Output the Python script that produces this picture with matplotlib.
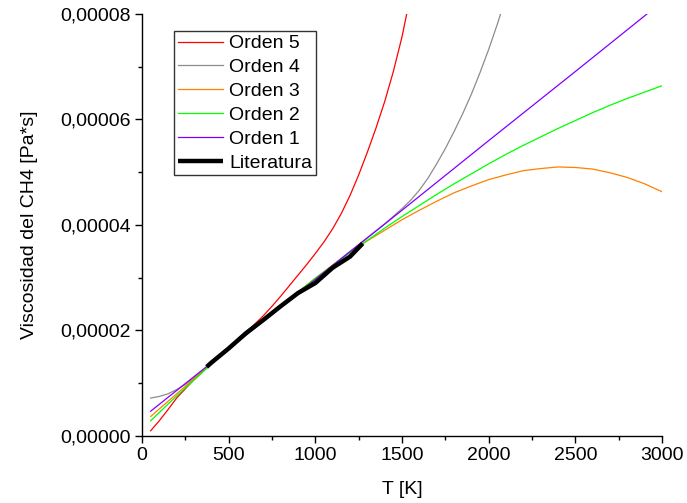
import numpy as np
import matplotlib
matplotlib.use("Agg")
import matplotlib.pyplot as plt
from matplotlib.ticker import MultipleLocator, FuncFormatter

plt.rcParams["font.family"] = ["Liberation Sans", "DejaVu Sans"]

# values, viscosity in units of 1e-5 Pa*s
T_lit = [373, 400, 500, 600, 700, 800, 900, 1000, 1100, 1200, 1273]
mu_lit = [1.31, 1.39, 1.66, 1.95, 2.20, 2.46, 2.71, 2.90, 3.19, 3.40, 3.65]

T_o5 = [50, 100, 150, 200, 300, 400, 500, 600, 650, 700, 750, 800, 850,
        900, 950, 1000, 1050, 1100, 1150, 1200, 1250, 1300, 1350, 1400,
        1450, 1500, 1550]
mu_o5 = [0.10, 0.29, 0.50, 0.72, 1.07, 1.38, 1.68, 1.97, 2.12, 2.28, 2.46,
         2.65, 2.85, 3.05, 3.25, 3.46, 3.68, 3.93, 4.22, 4.56, 4.95, 5.38,
         5.84, 6.34, 6.91, 7.57, 8.37]

T_o4 = [50, 100, 150, 200, 250, 300, 400, 500, 600, 700, 800, 900, 1000,
        1100, 1200, 1300, 1400, 1500, 1550, 1600, 1650, 1700, 1750, 1800,
        1850, 1900, 1950, 2000, 2050, 2100]
mu_o4 = [0.72, 0.75, 0.80, 0.88, 0.98, 1.10, 1.37, 1.64, 1.91, 2.18, 2.45,
         2.72, 2.98, 3.24, 3.50, 3.76, 4.02, 4.31, 4.47, 4.66, 4.89, 5.16,
         5.45, 5.77, 6.11, 6.48, 6.89, 7.33, 7.81, 8.33]

T_o23 = [50, 200, 400, 600, 800, 1000, 1100, 1200, 1300, 1400, 1500, 1600,
         1700, 1800, 1900, 2000, 2100, 2200, 2300, 2400, 2500, 2600, 2700,
         2800, 2900, 3000]
mu_o3 = [0.37, 0.80, 1.37, 1.93, 2.47, 2.99, 3.24, 3.48, 3.70, 3.90, 4.10,
         4.28, 4.45, 4.61, 4.74, 4.86, 4.95, 5.03, 5.07, 5.10, 5.09, 5.06,
         4.99, 4.90, 4.78, 4.63]
mu_o2 = [0.29, 0.76, 1.36, 1.93, 2.47, 2.99, 3.23, 3.48, 3.71, 3.94, 4.16,
         4.37, 4.58, 4.78, 4.97, 5.16, 5.34, 5.51, 5.67, 5.83, 5.98, 6.13,
         6.27, 6.40, 6.52, 6.64]

T_o1 = [50, 500, 1000, 1500, 2000, 2500, 3000]
mu_o1 = [0.47, 1.65, 2.97, 4.28, 5.60, 6.91, 8.23]

curves = [
    ("Orden 5", T_o5, mu_o5, "#ff0000"),
    ("Orden 4", T_o4, mu_o4, "#8c8c8c"),
    ("Orden 3", T_o23, mu_o3, "#ff8000"),
    ("Orden 2", T_o23, mu_o2, "#00ff00"),
    ("Orden 1", T_o1, mu_o1, "#8000ff"),
]

fig = plt.figure(figsize=(6.87, 5.03), dpi=100)
ax = fig.add_axes([0.2067, 0.1332, 0.757, 0.839])

for label, t, mu, col in curves:
    ax.plot(t, np.array(mu) * 1e-5, color=col, lw=0.9, label=label)
ax.plot(T_lit, np.array(mu_lit) * 1e-5, color="black", lw=3.2,
        solid_capstyle="butt", label="Literatura")

ax.set_xlim(0, 3000)
ax.set_ylim(0, 8e-5)
ax.xaxis.set_major_locator(MultipleLocator(500))
ax.xaxis.set_minor_locator(MultipleLocator(250))
ax.yaxis.set_major_locator(MultipleLocator(2e-5))
ax.yaxis.set_minor_locator(MultipleLocator(1e-5))
ax.yaxis.set_major_formatter(FuncFormatter(lambda v, p: f"{v:.5f}".replace(".", ",")))

for s in ("top", "right"):
    ax.spines[s].set_visible(False)
for s in ("left", "bottom"):
    ax.spines[s].set_linewidth(1.0)
ax.tick_params(which="major", direction="out", length=5, width=1, labelsize=14, pad=3)
ax.tick_params(which="minor", direction="out", length=3, width=1)

ax.set_xlabel("T [K]", fontsize=14, labelpad=12)
ax.set_ylabel("Viscosidad del CH4 [Pa*s]", fontsize=14, labelpad=16)

leg = ax.legend(loc="upper left", bbox_to_anchor=(0.0615, 0.96), borderaxespad=0,
                fontsize=14, fancybox=False, edgecolor="#333333", framealpha=1,
                handlelength=2.3, handletextpad=0.35, labelspacing=0.32,
                borderpad=0.2)
leg.get_frame().set_linewidth(1.0)

fig.savefig("out.png", dpi=100)
